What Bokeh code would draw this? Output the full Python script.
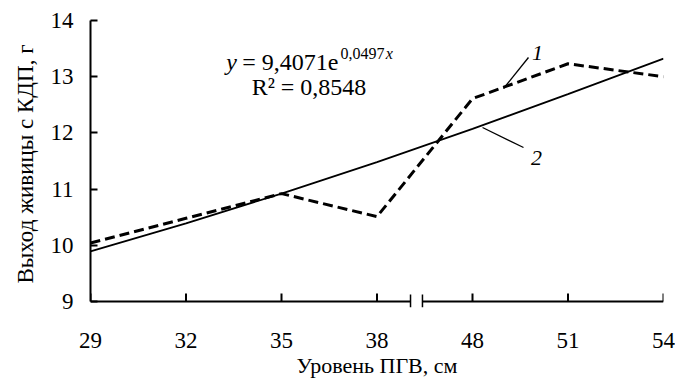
from bokeh.plotting import figure
from bokeh.models import Range1d, FixedTicker, Label
from bokeh.embed import file_html
from bokeh.resources import INLINE

# ---- data ----
levels = ["29", "32", "35", "38", "48", "51", "54"]          # Уровень ПГВ, см
yield_obs = [10.04, 10.48, 10.92, 10.51, 12.61, 13.23, 13.00]  # curve 1 (dashed)
yield_trend = [9.89, 10.39, 10.92, 11.48, 12.07, 12.69, 13.32]  # curve 2 (trend)
y_ticks = [9, 10, 11, 12, 13, 14]
axis_break = [3.351, 3.476]   # break marks between 38 and 48 (index units)

FONT = "Liberation Serif"
idx = list(range(len(levels)))

px_per_unit = 56.2
y_low = 9 - 6 / px_per_unit   # frame extends 6px below the x axis line

p = figure(width=675, height=388, output_backend="svg", toolbar_location=None,
           x_range=Range1d(0, 6), y_range=Range1d(y_low, 14),
           min_border_left=90, min_border_right=12, min_border_top=20,
           min_border_bottom=81)
p.outline_line_color = None
p.grid.visible = False
p.background_fill_color = "white"
p.border_fill_color = "white"

# ---- y axis ----
ya = p.yaxis[0]
ya.bounds = (9, 14)
ya.ticker = FixedTicker(ticks=y_ticks)
ya.axis_line_width = 2
ya.major_tick_in = 7
ya.major_tick_out = 0
ya.major_tick_line_width = 2
ya.minor_tick_line_color = None
ya.major_label_text_font = FONT
ya.major_label_text_font_size = "23px"
ya.major_label_text_color = "black"
ya.major_label_standoff = 17
ya.axis_label = "Выход живицы с КДП, г"
ya.axis_label_text_font = FONT
ya.axis_label_text_font_size = "23px"
ya.axis_label_text_font_style = "normal"
ya.axis_label_text_color = "black"
ya.axis_label_standoff = 10

# ---- x axis (labels only, line drawn with break) ----
xa = p.xaxis[0]
xa.ticker = FixedTicker(ticks=idx)
xa.major_label_overrides = {i: l for i, l in zip(idx, levels)}
xa.axis_line_color = None
xa.major_tick_line_color = None
xa.minor_tick_line_color = None
xa.major_label_text_font = FONT
xa.major_label_text_font_size = "23px"
xa.major_label_text_color = "black"
xa.major_label_standoff = 19
xa.axis_label = "Уровень ПГВ, см"
xa.axis_label_text_font = FONT
xa.axis_label_text_font_size = "22px"
xa.axis_label_text_font_style = "normal"
xa.axis_label_text_color = "black"
xa.axis_label_standoff = 2

tick_len = 8 / px_per_unit
bar_up = 7 / px_per_unit

# x axis line with break
p.segment(x0=[0, axis_break[1]], y0=[9, 9], x1=[axis_break[0], 6], y1=[9, 9],
          line_color="black", line_width=2)
p.segment(x0=axis_break, y0=[y_low] * 2, x1=axis_break, y1=[9 + bar_up] * 2,
          line_color="black", line_width=1.5)
# inward x ticks
p.segment(x0=idx, y0=[9] * len(idx), x1=idx, y1=[9 + tick_len] * len(idx),
          line_color="black", line_width=2)

# ---- data lines ----
p.line(idx, yield_trend, line_color="black", line_width=1.8)
p.line(idx, yield_obs, line_color="black", line_width=3, line_dash="10 5")

# ---- leader lines for curve numbers ----
p.segment(x0=[4.586, 4.534], y0=[13.342, 11.740], x1=[4.325, 4.105], y1=[12.790, 12.096],
          line_color="black", line_width=1.3)


def lab(x, y, text, size, style="normal", align="left"):
    p.add_layout(Label(x=x, y=y, text=text, text_font=FONT, text_font_size=size,
                       text_font_style=style, text_align=align, text_baseline="alphabetic",
                       text_color="black"))


# equation
lab(1.534, 13.253, "y", "24px", "italic", "right")
lab(2.597, 13.253, "= 9,4071e", "24px", "normal", "right")
lab(2.618, 13.413, "0,0497", "16px", "normal", "left")
lab(3.092, 13.413, "x", "16px", "italic", "left")
lab(2.288, 12.808, "R² = 0,8548", "24px", "normal", "center")
# curve numbers
lab(4.681, 13.413, "1", "22px", "italic", "center")
lab(4.670, 11.562, "2", "22px", "italic", "center")

open("out.html", "w").write(file_html(p, INLINE))
